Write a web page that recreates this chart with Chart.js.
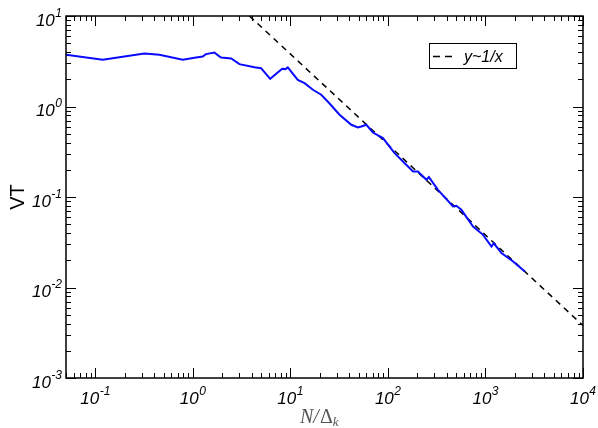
<!DOCTYPE html>
<html><head><meta charset="utf-8">
<script src="https://cdn.jsdelivr.net/npm/chart.js@4/dist/chart.umd.min.js"></script>
<style>html,body{margin:0;padding:0;background:#fff}</style>
</head><body>
<canvas id="c" width="598" height="428" style="width:598px;height:428px;display:block"></canvas>
<script>
// Blue curve (x = N/Δk, y = VT)
const seriesX = [0.05, 0.119, 0.318, 0.453, 0.786, 1.08, 1.26, 1.36, 1.66, 1.84, 1.95, 2.47, 3.0, 4.28, 5.0, 6.2, 8.24, 8.9, 9.4, 11.9, 13.96, 17.0, 20.7, 24.8, 31.9, 42.1, 49.2, 53.3, 60, 70.2, 88.9, 117, 154, 181, 203, 248, 263, 326, 465, 502, 566, 746, 945, 1153, 1217, 1459, 1920, 2535];
const seriesY = [3.73, 3.28, 3.85, 3.73, 3.28, 3.48, 3.57, 3.79, 3.95, 3.63, 3.48, 3.39, 2.94, 2.72, 2.65, 2.02, 2.61, 2.59, 2.70, 1.97, 1.81, 1.53, 1.35, 1.10, 0.81, 0.628, 0.586, 0.601, 0.628, 0.516, 0.448, 0.305, 0.227, 0.191, 0.191, 0.155, 0.166, 0.120, 0.0785, 0.080, 0.0722, 0.0472, 0.0382, 0.0284, 0.0308, 0.0240, 0.0194, 0.0150];
// Reference line y ~ 1/x (end points)
const refX = [3.8, 10000];
const refY = [10, 0.0038];
const refLabel = 'y~1/x';
// Axis ticks (powers of ten) and titles
const xTickExps = [-1, 0, 1, 2, 3, 4];
const yTickExps = [-3, -2, -1, 0, 1];
const xRange = [0.05, 10000];
const yRange = [0.001, 10];
const yTitle = 'VT';
const xTitleMain = 'N/';
const xTitleDelta = 'Δ';
const xTitleSub = 'k';

const toPts = (xs, ys) => xs.map((x, i) => ({x: x, y: ys[i]}));

const decor = {
  id: 'decor',
  afterDraw(chart) {
    const ctx = chart.ctx, a = chart.chartArea;
    const xs = chart.scales.x, ys = chart.scales.y;
    ctx.save();
    ctx.strokeStyle = '#000';
    ctx.lineWidth = 1.5;
    ctx.strokeRect(a.left, a.top, a.right - a.left, a.bottom - a.top);
    ctx.lineWidth = 1;
    const MAJ = 10, MIN = 5;
    for (let d = -2; d <= 4; d++) {
      for (let m = 1; m <= 9; m++) {
        const v = m * Math.pow(10, d);
        if (v < xRange[0] - 1e-12 || v > xRange[1] + 1e-9) continue;
        const px = Math.round(xs.getPixelForValue(v)) + 0.5;
        const L = m === 1 ? MAJ : MIN;
        ctx.beginPath();
        ctx.moveTo(px, a.bottom); ctx.lineTo(px, a.bottom - L);
        ctx.moveTo(px, a.top); ctx.lineTo(px, a.top + L);
        ctx.stroke();
      }
    }
    for (let d = -3; d <= 1; d++) {
      for (let m = 1; m <= 9; m++) {
        const v = m * Math.pow(10, d);
        if (v < yRange[0] - 1e-12 || v > yRange[1] + 1e-9) continue;
        const py = Math.round(ys.getPixelForValue(v)) + 0.5;
        const L = m === 1 ? MAJ : MIN;
        ctx.beginPath();
        ctx.moveTo(a.left, py); ctx.lineTo(a.left + L, py);
        ctx.moveTo(a.right, py); ctx.lineTo(a.right - L, py);
        ctx.stroke();
      }
    }
    const bigF = 'italic 17px "Liberation Sans", Arial, sans-serif';
    const supF = 'italic 12px "Liberation Sans", Arial, sans-serif';
    ctx.fillStyle = '#000';
    ctx.textBaseline = 'alphabetic';
    ctx.textAlign = 'left';
    const drawPow = (e, xLeft, base) => {
      ctx.font = bigF;
      ctx.fillText('10', xLeft, base);
      const w = ctx.measureText('10').width;
      ctx.font = supF;
      ctx.fillText(String(e), xLeft + w + 0.5, base - 9);
    };
    const powWidth = (e) => {
      ctx.font = bigF; const w1 = ctx.measureText('10').width;
      ctx.font = supF; const w2 = ctx.measureText(String(e)).width;
      return w1 + 0.5 + w2;
    };
    xTickExps.forEach(e => {
      const px = xs.getPixelForValue(Math.pow(10, e));
      drawPow(e, px - powWidth(e) / 2, 404);
    });
    yTickExps.forEach(e => {
      const py = ys.getPixelForValue(Math.pow(10, e));
      drawPow(e, 62 - powWidth(e), py + 9.5);
    });
    ctx.save();
    ctx.translate(24, 197);
    ctx.rotate(-Math.PI / 2);
    ctx.font = '20px "Liberation Sans", Arial, sans-serif';
    ctx.textAlign = 'center';
    ctx.fillText(yTitle, 0, 0);
    ctx.restore();
    // x title
    ctx.fillStyle = '#555';
    const x0 = 300;
    ctx.font = 'italic 20px "Liberation Serif", "DejaVu Serif", serif';
    ctx.textAlign = 'left';
    ctx.fillText(xTitleMain, x0, 423);
    const wN = ctx.measureText(xTitleMain).width;
    ctx.font = '20px "Liberation Serif", "DejaVu Serif", serif';
    ctx.fillText(xTitleDelta, x0 + wN + 1, 423);
    const wD = ctx.measureText(xTitleDelta).width;
    ctx.font = 'italic 13px "Liberation Serif", "DejaVu Serif", serif';
    ctx.fillText(xTitleSub, x0 + wN + wD + 1, 426);
    // legend
    ctx.fillStyle = '#fff';
    ctx.fillRect(429, 43, 87, 25);
    ctx.strokeStyle = '#000';
    ctx.lineWidth = 1;
    ctx.strokeRect(429.5, 43.5, 87, 25);
    ctx.setLineDash([7, 5]);
    ctx.lineWidth = 1.5;
    ctx.beginPath();
    ctx.moveTo(433, 56.5); ctx.lineTo(455, 56.5);
    ctx.stroke();
    ctx.setLineDash([]);
    ctx.fillStyle = '#000';
    ctx.font = 'italic 16px "Liberation Sans", Arial, sans-serif';
    ctx.fillText(refLabel, 464, 62);
    ctx.restore();
  }
};

new Chart(document.getElementById('c'), {
  type: 'line',
  data: {
    datasets: [
      {data: toPts(seriesX, seriesY), borderColor: '#0a0aff', borderWidth: 2, pointRadius: 0, tension: 0, fill: false},
      {data: toPts(refX, refY), borderColor: '#000', borderWidth: 1.5, borderDash: [6, 5], pointRadius: 0, tension: 0, fill: false}
    ]
  },
  options: {
    responsive: false,
    animation: false,
    devicePixelRatio: 1,
    layout: {padding: {left: 66, right: 15, top: 16, bottom: 50}},
    plugins: {legend: {display: false}, tooltip: {enabled: false}},
    scales: {
      x: {type: 'logarithmic', min: xRange[0], max: xRange[1], display: false},
      y: {type: 'logarithmic', min: yRange[0], max: yRange[1], display: false}
    }
  },
  plugins: [decor]
});
</script>
</body></html>
